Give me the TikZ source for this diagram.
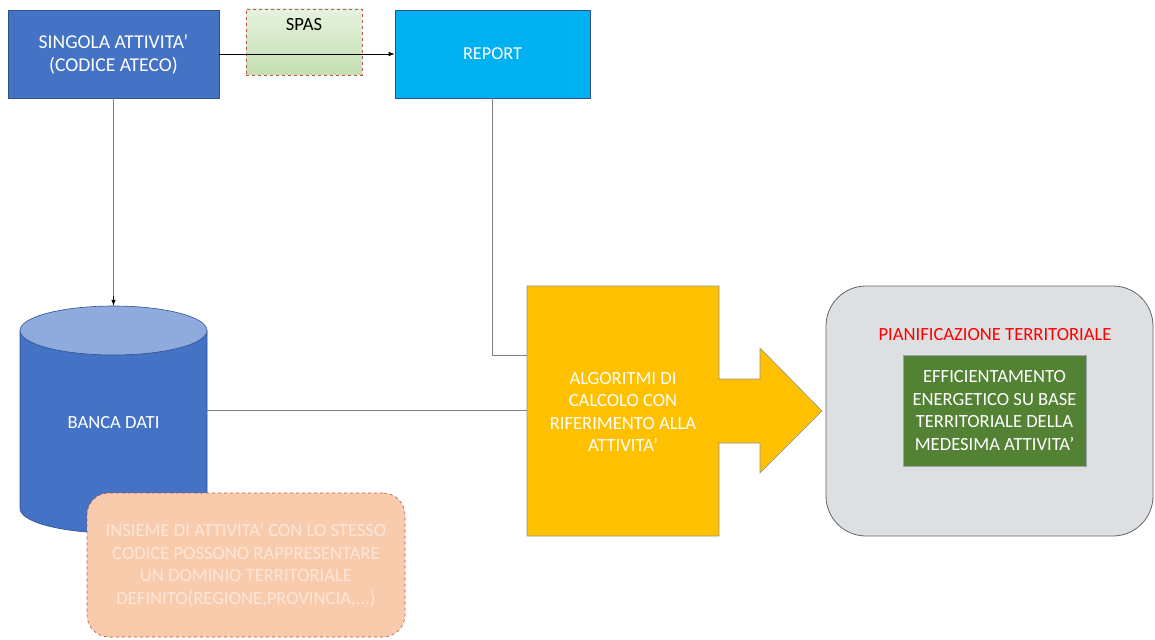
\documentclass[tikz,border=0pt]{standalone}
\usepackage{fontspec}
\setmainfont{Carlito}
\usetikzlibrary{arrows.meta,calc}
\definecolor{cblue}{HTML}{4472C4}
\definecolor{cbluedark}{HTML}{2F528F}
\definecolor{cbluetop}{HTML}{8FAADC}
\definecolor{ccyan}{HTML}{00B0F0}
\definecolor{cyellow}{HTML}{FFC000}
\definecolor{cgreen}{HTML}{548235}
\definecolor{cgreentop}{HTML}{E6F2DF}
\definecolor{cgreenbot}{HTML}{C3DFB0}
\definecolor{cgray}{HTML}{DEDFE1}
\definecolor{cgrayline}{HTML}{5F6670}
\definecolor{csalmon}{HTML}{F8CBAD}
\definecolor{csalmontext}{HTML}{FCE6D8}
\definecolor{cred}{HTML}{FF0000}
\definecolor{cdashred}{HTML}{C0504D}
\definecolor{cline}{HTML}{808080}
\tikzset{
  txt/.style={font=\fontsize{18.6}{22.5}\selectfont, align=center},
  bluebox/.style={txt, draw=cbluedark, line width=0.6pt, fill=cblue, text=white, inner sep=0pt},
  cyanbox/.style={txt, draw=cbluedark, line width=0.6pt, fill=ccyan, text=white, inner sep=0pt},
  link/.style={draw=cline, line width=0.8pt},
  tip/.style={-{Latex[length=6pt,width=4.5pt]}, line width=0.8pt},
  hidden/.style={inner sep=0pt, draw=none}
}
\begin{document}
\begin{tikzpicture}[x=1pt,y=-1pt]
\useasboundingbox (0,0) rectangle (1155,639);
% top boxes
\node[bluebox, font=\fontsize{19.6}{23}\selectfont, minimum width=211pt, minimum height=88pt] (sing) at (113.5,54) {SINGOLA ATTIVITA'\\(CODICE ATECO)};
\node[draw=cdashred, dashed, line width=0.6pt, top color=cgreentop, bottom color=cgreenbot, minimum width=116pt, minimum height=66pt, inner sep=0pt] (spas) at (304,42) {};
\node[txt, inner sep=0pt] (spaslbl) at (304,25) {SPAS};
\node[cyanbox, font=\fontsize{18.2}{22}\selectfont, minimum width=195pt, minimum height=88pt] (rep) at (492.5,54) {REPORT};
\draw[tip, draw=black] (sing.east) -- (rep.west);
% database cylinder
\node[hidden, minimum width=187pt, minimum height=227pt] (db) at (113.5,419.5) {};
\fill[cblue] (20,330.5) -- (20,508.5) arc[start angle=180, end angle=360, x radius=93.5pt, y radius=24.5pt] -- (207,330.5) -- cycle;
\draw[cbluedark, line width=0.6pt] (20,330.5) -- (20,508.5) arc[start angle=180, end angle=360, x radius=93.5pt, y radius=24.5pt] -- (207,330.5);
\draw[cbluedark, fill=cbluetop, line width=0.6pt] (113.5,330.5) ellipse [x radius=93.5pt, y radius=24.5pt];
\node[txt, text=white] (dblbl) at (113.5,423) {BANCA DATI};
\draw[link] (sing.south) -- (db.north);
\draw[tip, draw=black] ($(db.north)+(0,-10)$) -- (db.north);
% algorithm arrow shape
\node[hidden, minimum width=192pt, minimum height=250pt] (alg) at (623,411) {};
\draw[fill=cyellow, draw=cgrayline!70, line width=0.6pt] (527,286) -- (719,286) -- (719,379) -- (760,379) -- (760,348) -- (822,411) -- (760,473) -- (760,443) -- (719,443) -- (719,536) -- (527,536) -- cycle;
\node[txt, text=white] (alglbl) at (623,412) {ALGORITMI DI\\CALCOLO CON\\RIFERIMENTO ALLA\\ATTIVITA'};
% connectors to algorithm
\coordinate (dbline) at (0,410);
\draw[link] (db.east |- dbline) -- (alg.west |- dbline);
\coordinate (repline) at (0,355);
\draw[link] (rep.south) |- (alg.west |- repline);
% planning box
\node[draw=cgrayline, fill=cgray, line width=0.8pt, rounded corners=40pt, minimum width=327pt, minimum height=250pt, inner sep=0pt] (plan) at (989.5,411) {};
\node[txt, text=cred] (plantitle) at (995,335) {PIANIFICAZIONE TERRITORIALE};
\node[txt, text=white, fill=cgreen, draw=cgrayline!60, line width=0.5pt, minimum width=183pt, minimum height=111pt, inner sep=0pt] (eff) at (994.5,410.5) {EFFICIENTAMENTO\\ENERGETICO SU BASE\\TERRITORIALE DELLA\\MEDESIMA ATTIVITA'};
% note box
\node[txt, text=csalmontext, fill=csalmon, draw=cdashred, dashed, line width=0.6pt, rounded corners=22pt, minimum width=318pt, minimum height=144pt, inner sep=0pt] (note) at (246,565) {INSIEME DI ATTIVITA' CON LO STESSO\\CODICE POSSONO RAPPRESENTARE\\UN DOMINIO TERRITORIALE\\DEFINITO(REGIONE,PROVINCIA,...)};
\end{tikzpicture}
\end{document}
